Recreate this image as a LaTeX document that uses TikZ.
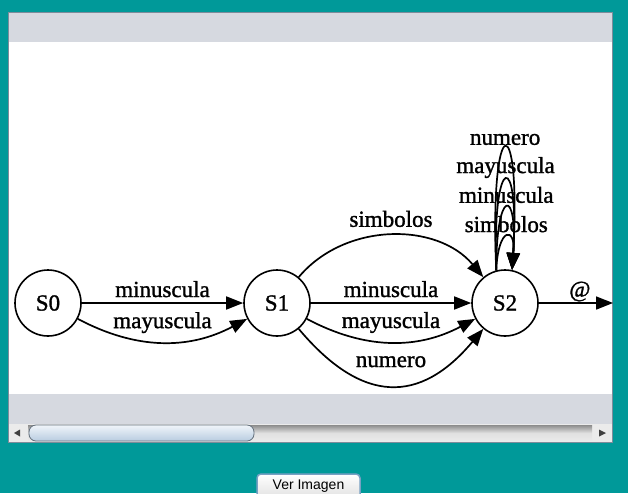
\documentclass[tikz,border=0pt]{standalone}
\usepackage{fontspec}
\setmainfont{Liberation Serif}[BoldFont=Liberation Serif, BoldFeatures={FakeBold=1.3}]
\newfontfamily\uifont{Liberation Sans}
\usetikzlibrary{arrows.meta, positioning}
\definecolor{winteal}{RGB}{0, 153, 153}
\definecolor{winband}{RGB}{214, 217, 224}
\definecolor{winedge}{RGB}{125, 140, 155}
\definecolor{thumbtop}{RGB}{240, 245, 250}
\definecolor{thumbbot}{RGB}{184, 204, 224}
\definecolor{btnedge}{RGB}{120, 160, 195}

\begin{document}
\begin{tikzpicture}[
  x=1pt, y=-1pt,
  state/.style={circle, draw, line width=1.6pt, minimum size=66pt, inner sep=0pt, font=\fontsize{23}{26}\selectfont\bfseries},
  arr/.style={-{Triangle[length=17pt, width=13pt]}, line width=1.7pt},
  lbl/.style={anchor=base, inner sep=0pt, font=\fontsize{23}{26}\selectfont\bfseries},
  arrowbtn/.style={fill=black!75}
]
\useasboundingbox (0,0) rectangle (628,493);

% Window
\fill[winteal] (0,0) rectangle (628,493);
\fill[winband] (8,12) rectangle (612,443);
\fill[white] (8,42) rectangle (612,394);

% Scrollbar
\fill[black!8] (8,424) rectangle (612,442);
\shade[top color=black!45, bottom color=black!8, middle color=black!12] (28,425) rectangle (592,441);
\draw[winedge!80!black, line width=0.8pt, rounded corners=7pt, top color=thumbtop, bottom color=thumbbot] (29,425) rectangle (254,441);
\fill[arrowbtn] (14,433) -- (20,429.5) -- (20,436.5) -- cycle;
\fill[arrowbtn] (606,433) -- (599,429.5) -- (599,436.5) -- cycle;
\draw[winedge, line width=1pt] (8,12.5) rectangle (612.5,442.5);

% States
\node[state] (s0) at (48,303) {S0};
\node[state] (s1) at (277,303) {S1};
\node[state] (s2) at (505,303) {S2};
\coordinate (fin) at (613,303);

% S0 -> S1
\draw[arr] (s0) -- node[lbl, midway, yshift=6pt] (t01a) {minuscula} (s1);
\draw[arr] (s0) to[out=-28, in=208] node[lbl, midway, yshift=14pt] (t01b) {mayuscula} (s1);

% S1 -> S2
\draw[arr] (s1) to[out=50, in=130] node[lbl, midway, yshift=9pt] (t12a) {simbolos} (s2);
\draw[arr] (s1) -- node[lbl, midway, yshift=6pt] (t12b) {minuscula} (s2);
\draw[arr] (s1) to[out=-28, in=208] node[lbl, midway, yshift=14pt] (t12c) {mayuscula} (s2);
\draw[arr] (s1) to[out=-50, in=230, looseness=1.37] node[lbl, midway, yshift=18.5pt] (t12d) {numero} (s2);

% Loops on S2
\draw[arr] (s2.105) .. controls (489,107) and (522,107) .. (s2.78) node[lbl, pos=0.5, yshift=3pt] (t22a) {numero};
\draw[arr] (s2.105) .. controls (492,150) and (520,150) .. (s2.78) node[lbl, pos=0.5, yshift=7pt] (t22b) {mayuscula};
\draw[arr] (s2.105) .. controls (496,187) and (518,187) .. (s2.78) node[lbl, pos=0.5, yshift=5pt] (t22c) {minuscula};
\draw[arr] (s2.105) .. controls (498,226) and (516,226) .. (s2.78) node[lbl, pos=0.5, yshift=5pt] (t22d) {simbolos};

% S2 -> out
\draw[arr] (s2) -- node[lbl, midway, xshift=4pt, yshift=6pt] (tout) {@} (fin);

% Button
\draw[btnedge, line width=1.5pt, rounded corners=4pt, top color=white, bottom color=black!15] (257,474) rectangle (360,505);
\node[anchor=base, inner sep=0pt, font=\uifont\fontsize{14}{16}\selectfont] (btn) at (308.5,489.3) {Ver Imagen};
\end{tikzpicture}
\end{document}
